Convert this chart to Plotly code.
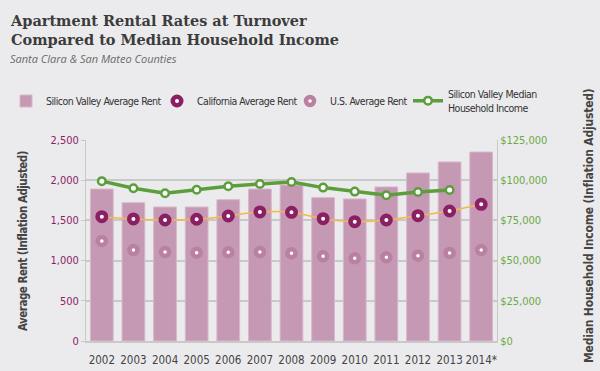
import plotly.graph_objects as go

years = ["2002", "2003", "2004", "2005", "2006", "2007", "2008", "2009", "2010", "2011", "2012", "2013", "2014*"]
sv_rent = [1890, 1720, 1667, 1667, 1758, 1890, 1940, 1783, 1767, 1916, 2090, 2227, 2350]
ca_rent = [1546, 1518, 1505, 1514, 1555, 1605, 1601, 1521, 1484, 1505, 1559, 1617, 1700]
us_rent = [1244, 1132, 1107, 1099, 1103, 1107, 1090, 1053, 1028, 1041, 1061, 1095, 1132]
sv_income = [99400, 95000, 91900, 94100, 96200, 97600, 98900, 95400, 92900, 90600, 92700, 93900, None]

BG = "#ebebed"
BAR = "#c598b4"
CA = "#8b1f63"
US = "#b9809f"
GREEN = "#5c9e3c"
GRID = "#c9c9c9"
NARROW = "DejaVu Sans Condensed, Roboto, sans-serif"

L, R, T, B = 86, 103, 140, 30
W, H = 600, 371
PW, PH = W - L - R, H - T - B


def px_x(x):
    return (x - L) / PW


def px_y(y):
    return 1 - (y - T) / PH


def tight(s, sp=-0.5):
    return f"<span style='letter-spacing:{sp}px'>{s}</span>"


fig = go.Figure()

# thin orange trend behind bars
fig.add_trace(go.Scatter(x=years, y=ca_rent, mode="lines", yaxis="y",
                         line=dict(color="#f2b84b", width=1.5, shape="spline"),
                         showlegend=False, hoverinfo="skip"))

fig.add_trace(go.Bar(x=years, y=sv_rent, name=tight("Silicon Valley Average Rent"), yaxis="y",
                     legend="legend",
                     marker=dict(color=BAR, line=dict(color="#d9b8cb", width=1)),
                     width=0.72))

fig.add_trace(go.Scatter(x=years, y=ca_rent, name=tight("California Average Rent"), yaxis="y3",
                         mode="markers", legend="legend2",
                         marker=dict(color="white", size=8.5, line=dict(color=CA, width=4.5))))
fig.add_trace(go.Scatter(x=years, y=us_rent, name=tight("U.S. Average Rent"), yaxis="y3",
                         mode="markers", legend="legend3",
                         marker=dict(color="white", size=8, line=dict(color=US, width=4.5))))

fig.add_trace(go.Scatter(x=years, y=sv_income,
                         name=tight("Silicon Valley Median") + "<br>" + tight("Household Income"),
                         yaxis="y2", mode="lines+markers", legend="legend4",
                         line=dict(color=GREEN, width=3.5),
                         marker=dict(color="white", size=7.5, line=dict(color=GREEN, width=2.5))))

leg_common = dict(orientation="h", yanchor="middle", xanchor="left", y=px_y(101),
                  font=dict(family=NARROW, size=10.5, color="#333"),
                  bgcolor="rgba(0,0,0,0)", itemwidth=30, valign="middle")

tick_font_l = dict(family=NARROW, size=11, color=CA)
tick_font_r = dict(family=NARROW, size=11, color="#6aaa45")

fig.update_layout(
    width=W, height=H,
    paper_bgcolor=BG, plot_bgcolor=BG,
    margin=dict(l=L, r=R, t=T, b=B, autoexpand=False),
    font=dict(family=NARROW, size=12, color="#444"),
    showlegend=True,
    legend=dict(x=px_x(6), **leg_common),
    legend2=dict(x=px_x(157), **leg_common),
    legend3=dict(x=px_x(290), **leg_common),
    legend4=dict(x=px_x(408), **leg_common),
    xaxis=dict(type="category", range=[-0.5, 12.5], showgrid=False, automargin=False,
               showline=True, linecolor=GRID, linewidth=2, tickangle=0,
               ticklabelstandoff=7,
               tickfont=dict(family=NARROW, size=11.5, color="#444"), ticks=""),
    yaxis=dict(range=[0, 2500], dtick=500, tickformat=",", showgrid=True, automargin=False,
               gridcolor=GRID, gridwidth=2, zeroline=False,
               showline=True, linecolor=GRID, linewidth=1,
               ticks="outside", ticklen=4, tickcolor=GRID,
               tickfont=tick_font_l),
    yaxis2=dict(range=[0, 125000], dtick=25000, tickformat=",", tickprefix="$",
                overlaying="y", side="right", showgrid=False, zeroline=False, automargin=False,
                showline=True, linecolor=GRID, linewidth=1,
                tickfont=tick_font_r),
    yaxis3=dict(range=[0, 2500], overlaying="y", visible=False),
    annotations=[
        dict(text="<b>Apartment Rental Rates at Turnover<br>Compared to Median Household Income</b>",
             x=px_x(8), y=px_y(10), xref="paper", yref="paper", showarrow=False, align="left",
             xanchor="left", yanchor="top",
             font=dict(family="DejaVu Serif", size=14.5, color="#3c3c3c")),
        dict(text="<i>Santa Clara & San Mateo Counties</i>", x=px_x(8), y=px_y(49),
             xref="paper", yref="paper",
             showarrow=False, align="left", xanchor="left", yanchor="top",
             font=dict(family="Open Sans", size=11, color="#6a6a6a")),
        dict(text="<b>" + tight("Average Rent (Inflation Adjusted)", -0.5) + "</b>",
             x=px_x(23), y=px_y(241), xref="paper", yref="paper", textangle=-90,
             showarrow=False, xanchor="center", yanchor="middle",
             font=dict(family=NARROW, size=11.5, color="#444")),
        dict(text="<b>" + tight("Median Household Income (Inflation Adjusted)", -0.2) + "</b>",
             x=px_x(589), y=px_y(226), xref="paper", yref="paper", textangle=-90,
             showarrow=False, xanchor="center", yanchor="middle",
             font=dict(family=NARROW, size=12, color="#444")),
    ],
)

fig.write_html("out.html", config={"displayModeBar": False},
               post_script="document.body.style.margin='0';")
